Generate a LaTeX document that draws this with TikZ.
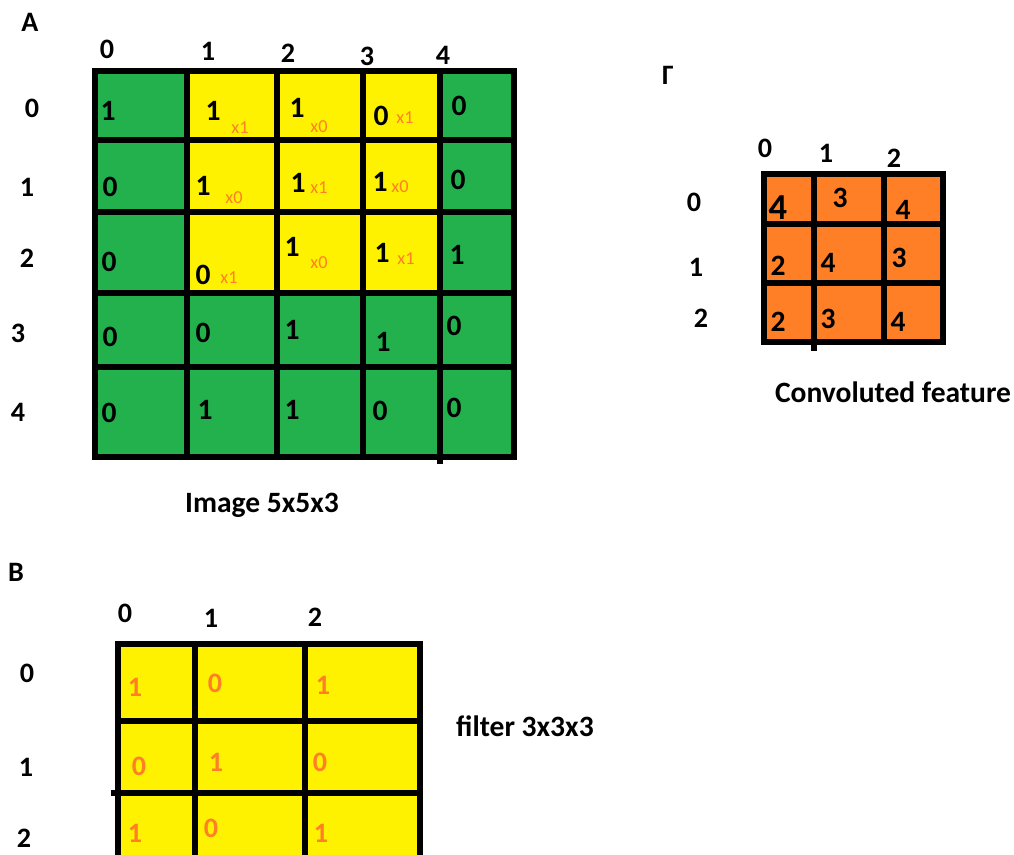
\documentclass[tikz,border=0pt]{standalone}
\usepackage{fontspec}
\setmainfont{Carlito}
\definecolor{paintgreen}{HTML}{22B14C}
\definecolor{paintyellow}{HTML}{FFF200}
\definecolor{paintorange}{HTML}{FF7F27}
\begin{document}
\begin{tikzpicture}[x=0.025cm,y=-0.025cm,
  every node/.style={inner sep=0pt,font=\fontsize{20}{20}\selectfont\bfseries},
  gridline/.style={line width=3.6pt,line cap=rect},
  val/.style={font=\fontsize{21}{21}\selectfont\bfseries},
  bigval/.style={font=\fontsize{26}{26}\selectfont\bfseries},
  mul/.style={font=\fontsize{13}{13}\selectfont,text=paintorange},
  fval/.style={font=\fontsize{20}{20}\selectfont\bfseries,text=paintorange},
  caption/.style={font=\fontsize{21}{21}\selectfont\bfseries}]
\useasboundingbox (0,0) rectangle (1014,855);
% A: image 5x5 with the filter window
\begin{scope}
\fill[paintgreen] (95,71) rectangle (514,457);
\fill[paintyellow] (187,71) rectangle (440,293);
\foreach \gx in {95,187,277,363,514} \draw[gridline] (\gx,71) -- (\gx,457);
\draw[gridline] (440,71) -- (440,461);
\foreach \gy in {71,140,212,293,367,457} \draw[gridline] (95,\gy) -- (514,\gy);
\node (labA) at (30,22) {A};
\foreach \px/\py/\t [count=\k] in {107/49/0,208/51/1,288/53/2,367/56/3,443/55/4}
  \node (colA\k) at (\px,\py) {\t};
\foreach \px/\py/\t [count=\k] in {32/108/0,27/187/1,27/258/2,18/333/3,18/412/4}
  \node (rowA\k) at (\px,\py) {\t};
\foreach \px/\py/\t [count=\k] in {
  108/111/1,213/111/1,297/108/1,381/116/0,459/106/0,
  110/187/0,203/186/1,298/183/1,380/182/1,458/180/0,
  109/262/0,203/275/0,292/247/1,382/253/1,457/255/1,
  110/337/0,203/333/0,292/330/1,383/342/1,454/326/0,
  109/413/0,205/410/1,292/410/1,380/411/0,454/408/0}
  \node[val] (a\k) at (\px,\py) {\t};
\foreach \px/\py/\t [count=\k] in {
  240/128/x1,319/127/x0,405/118/x1,
  234/198/x0,319/188/x1,400/187/x0,
  229/278/x1,319/263/x0,406/259/x1}
  \node[mul] (w\k) at (\px,\py) {\t};
\node[caption] (capA) at (262,505) {Image 5x5x3};
\end{scope}
% Γ: convoluted feature 3x3
\begin{scope}
\fill[paintorange] (764,174) rectangle (943,342);
\foreach \gx in {764,884,943} \draw[gridline] (\gx,174) -- (\gx,342);
\draw[gridline] (814,174) -- (814,348);
\foreach \gy in {174,224,283,342} \draw[gridline] (764,\gy) -- (943,\gy);
\node (labC) at (668,75) {Γ};
\foreach \px/\py/\t [count=\k] in {765/148/0,826/153/1,894/158/2}
  \node (colC\k) at (\px,\py) {\t};
\foreach \px/\py/\t [count=\k] in {694/202/0,696/267/1,701/318/2}
  \node (rowC\k) at (\px,\py) {\t};
\node[bigval] (c1) at (778,208) {4};
\foreach \px/\py/\t [count=\k from 2] in {
  840/198/3,903/210/4,
  778/266/2,828/263/4,899/258/3,
  778/322/2,828/319/3,898/322/4}
  \node[val] (c\k) at (\px,\py) {\t};
\node[caption] (capC) at (893,392) {Convoluted feature};
\end{scope}
% B: filter 3x3
\begin{scope}
\fill[paintyellow] (118,644) rectangle (420,856);
\foreach \gx in {118,195,305,420} \draw[gridline] (\gx,644) -- (\gx,856);
\draw[gridline] (118,644) -- (420,644);
\draw[gridline] (118,721) -- (420,721);
\draw[gridline] (114,793) -- (420,793);
\node (labB) at (16,572) {B};
\foreach \px/\py/\t [count=\k] in {125/613/0,211/618/1,315/617/2}
  \node (colB\k) at (\px,\py) {\t};
\foreach \px/\py/\t [count=\k] in {27/673/0,26/767/1,24/838/2}
  \node (rowB\k) at (\px,\py) {\t};
\foreach \px/\py/\t [count=\k] in {
  135/687/1,215/683/0,323/685/1,
  139/766/0,216/762/1,320/762/0,
  135/833/1,211/828/0,321/833/1}
  \node[fval] (b\k) at (\px,\py) {\t};
\node[caption] (capB) at (525,726) {filter 3x3x3};
\end{scope}
\end{tikzpicture}
\end{document}
